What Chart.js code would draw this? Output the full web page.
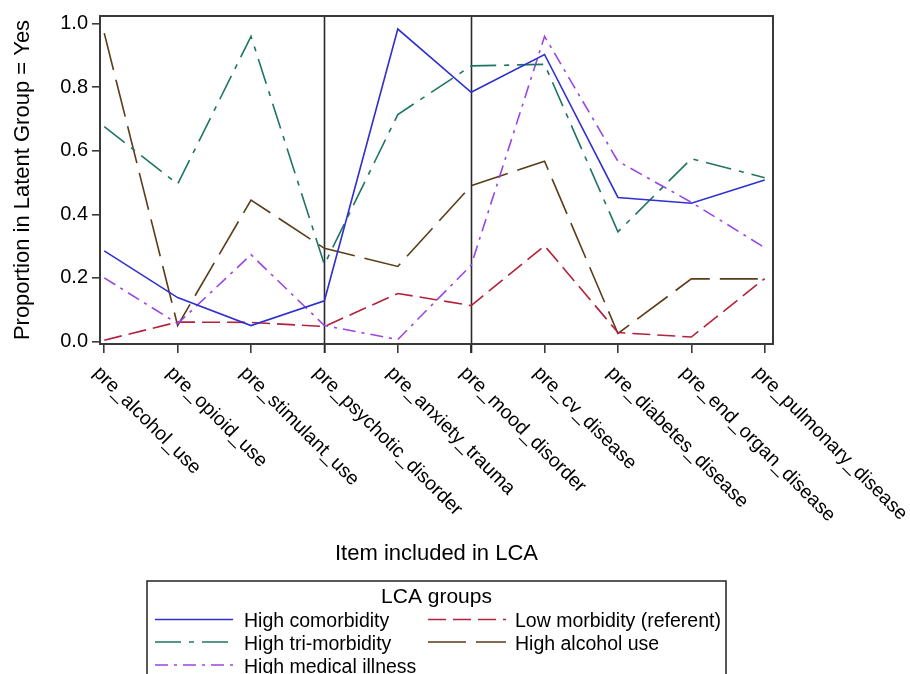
<!DOCTYPE html>
<html>
<head>
<meta charset="utf-8">
<script src="https://cdn.jsdelivr.net/npm/chart.js@4"></script>
<style>
  html, body { margin: 0; padding: 0; background: #ffffff; }
  canvas { display: block; }
</style>
</head>
<body>
<canvas id="lcaChart" width="910" height="674"></canvas>
<script>
const categories = [
    "pre_alcohol_use",
    "pre_opioid_use",
    "pre_stimulant_use",
    "pre_psychotic_disorder",
    "pre_anxiety_trauma",
    "pre_mood_disorder",
    "pre_cv_disease",
    "pre_diabetes_disease",
    "pre_end_organ_disease",
    "pre_pulmonary_disease",
];

const highComorbidity = [0.285, 0.138, 0.050, 0.128, 0.983, 0.784, 0.903, 0.453, 0.435, 0.508];
const highTriMorbidity = [0.676, 0.495, 0.960, 0.242, 0.714, 0.867, 0.872, 0.345, 0.575, 0.515];
const highMedicalIllness = [0.200, 0.056, 0.273, 0.050, 0.006, 0.240, 0.960, 0.567, 0.438, 0.295];
const lowMorbidity = [0.004, 0.061, 0.060, 0.047, 0.151, 0.113, 0.301, 0.028, 0.014, 0.198];
const highAlcoholUse = [0.970, 0.050, 0.445, 0.293, 0.236, 0.490, 0.567, 0.025, 0.197, 0.197];

const yTicks = [0.0, 0.2, 0.4, 0.6, 0.8, 1.0];
const refLines = [3, 5]; // vertical reference lines at these category indexes

const FONT = "'Liberation Sans', Arial, sans-serif";

function toPoints(values) {
    return values.map((v, i) => ({ x: i, y: v }));
}

const datasets = [
    { label: "High comorbidity", data: toPoints(highComorbidity), borderColor: "#3030d0", borderDash: [] },
    { label: "High tri-morbidity", data: toPoints(highTriMorbidity), borderColor: "#1f7563", borderDash: [26, 8, 5, 8] },
    { label: "High medical illness", data: toPoints(highMedicalIllness), borderColor: "#9b45e4", borderDash: [13, 6, 3, 6] },
    { label: "Low morbidity (referent)", data: toPoints(lowMorbidity), borderColor: "#b2223c", borderDash: [18, 7] },
    { label: "High alcohol use", data: toPoints(highAlcoholUse), borderColor: "#5a3d18", borderDash: [38, 10] },
];
datasets.forEach(d => {
    d.borderWidth = 1.6;
    d.pointRadius = 0;
    d.tension = 0;
    d.fill = false;
});

// frame, reference lines, rotated category labels, titles and legend box
const decorations = {
    id: "decorations",
    beforeDatasetsDraw(chart) {
        const { ctx, chartArea, scales } = chart;
        ctx.save();
        ctx.strokeStyle = "#2a2a2a";
        ctx.lineWidth = 1.6;
        refLines.forEach(i => {
            const x = Math.round(scales.x.getPixelForValue(i)) + 0.5;
            ctx.beginPath();
            ctx.moveTo(x, chartArea.top);
            ctx.lineTo(x, chartArea.bottom + 9);
            ctx.stroke();
        });
        ctx.restore();
    },
    afterDraw(chart) {
        const { ctx, chartArea, scales } = chart;
        ctx.save();

        // frame
        ctx.strokeStyle = "#3a3a3a";
        ctx.lineWidth = 2;
        ctx.strokeRect(chartArea.left, chartArea.top, chartArea.right - chartArea.left, chartArea.bottom - chartArea.top);

        // category labels, rotated 45 degrees clockwise
        ctx.fillStyle = "#000";
        ctx.font = "19.5px " + FONT;
        ctx.textAlign = "left";
        ctx.textBaseline = "middle";
        categories.forEach((c, i) => {
            const x = scales.x.getPixelForValue(i);
            ctx.save();
            ctx.translate(x - 8, 370);
            ctx.rotate(Math.PI / 4);
            ctx.fillText(c, 0, 0);
            ctx.restore();
        });

        // axis titles
        ctx.font = "22px " + FONT;
        ctx.textAlign = "center";
        ctx.textBaseline = "alphabetic";
        ctx.fillText("Item included in LCA", (chartArea.left + chartArea.right) / 2, 559.5);
        ctx.save();
        ctx.translate(28.5, (chartArea.top + chartArea.bottom) / 2);
        ctx.rotate(-Math.PI / 2);
        ctx.fillText("Proportion in Latent Group = Yes", 0, 0);
        ctx.restore();

        // legend box
        const boxLeft = 147, boxRight = 726, boxTop = 581;
        ctx.strokeStyle = "#222";
        ctx.lineWidth = 1.5;
        ctx.strokeRect(boxLeft, boxTop, boxRight - boxLeft, 200);
        ctx.font = "21px " + FONT;
        ctx.fillText("LCA groups", (boxLeft + boxRight) / 2, 603);

        const cols = [
            { x1: 155, x2: 233, tx: 244, items: [0, 1, 2] },
            { x1: 428, x2: 506, tx: 515, items: [3, 4] },
        ];
        const rowLine = [619.5, 642, 665];
        ctx.font = "19.5px " + FONT;
        ctx.textAlign = "left";
        cols.forEach(col => {
            col.items.forEach((di, r) => {
                const ds = datasets[di];
                ctx.strokeStyle = ds.borderColor;
                ctx.lineWidth = ds.borderWidth;
                ctx.setLineDash(ds.borderDash);
                ctx.beginPath();
                ctx.moveTo(col.x1, rowLine[r]);
                ctx.lineTo(col.x2, rowLine[r]);
                ctx.stroke();
                ctx.setLineDash([]);
                ctx.fillStyle = "#000";
                ctx.fillText(ds.label, col.tx, rowLine[r] + 7.5);
            });
        });

        ctx.restore();
    },
};

const config = {
    type: "line",
    data: { datasets: datasets },
    options: {
        responsive: false,
        animation: false,
        devicePixelRatio: 1,
        layout: {
            padding: { left: 0, top: 11, right: 137, bottom: 0 },
        },
        plugins: {
            legend: { display: false },
            tooltip: { enabled: false },
        },
        scales: {
            x: {
                type: "linear",
                min: -0.058,
                max: 9.113,
                afterBuildTicks: s => { s.ticks = categories.map((c, i) => ({ value: i })); },
                afterFit: s => { s.height = 330; },
                ticks: { display: false },
                grid: {
                    drawOnChartArea: false,
                    drawTicks: true,
                    tickLength: 9,
                    color: "#3a3a3a",
                    lineWidth: 1.6,
                },
                border: { display: true, color: "#3a3a3a", width: 2 },
            },
            y: {
                min: -0.008,
                max: 1.024,
                afterBuildTicks: s => { s.ticks = yTicks.map(v => ({ value: v })); },
                afterFit: s => { s.width = 100; },
                ticks: {
                    callback: v => v.toFixed(1),
                    color: "#000",
                    font: { family: FONT, size: 20 },
                    padding: 4,
                },
                grid: {
                    drawOnChartArea: false,
                    drawTicks: true,
                    tickLength: 8,
                    color: "#3a3a3a",
                    lineWidth: 1.6,
                },
                border: { display: true, color: "#3a3a3a", width: 2 },
            },
        },
    },
    plugins: [decorations],
};

new Chart(document.getElementById("lcaChart"), config);
</script>
</body>
</html>
